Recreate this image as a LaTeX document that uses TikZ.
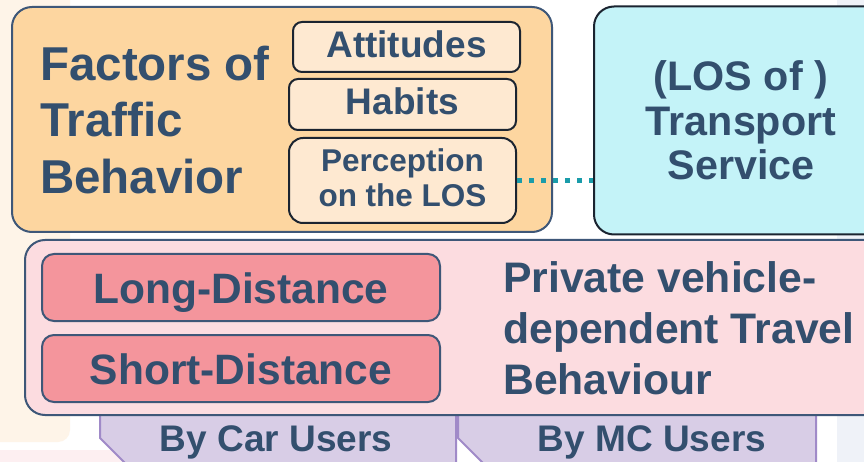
\documentclass[tikz,border=0pt]{standalone}
\usepackage{fontspec}
\setmainfont{Liberation Sans}
\usetikzlibrary{positioning, shapes, calc}

\definecolor{ink}{HTML}{334F6E}
\definecolor{boxline}{HTML}{3E5778}
\definecolor{darkline}{HTML}{1B2430}
\definecolor{orangefill}{HTML}{FDD6A0}
\definecolor{orangelight}{HTML}{FEE9D1}
\definecolor{cyanfill}{HTML}{C4F3F8}
\definecolor{pinkfill}{HTML}{FCDCE0}
\definecolor{redfill}{HTML}{F4959C}
\definecolor{purplefill}{HTML}{D8CDE6}
\definecolor{purpleline}{HTML}{A08AC8}
\definecolor{tealdot}{HTML}{1A9CAA}
\definecolor{creambg}{HTML}{FEF4E8}
\definecolor{greybg}{HTML}{EFF2F8}
\definecolor{pinkbg}{HTML}{FDEFF1}

% bold text at a given size / line spacing
\newcommand{\bfsz}[2]{\fontsize{#1}{#2}\selectfont\bfseries}

\begin{document}
\begin{tikzpicture}[x=1pt, y=-1pt,
    every node/.style={text=ink, inner sep=0pt},
    bigbox/.style={draw=boxline, line width=2pt, rounded corners=20pt},
    factorbox/.style={draw=darkline, line width=2pt, fill=orangelight, rounded corners=9pt, minimum width=227pt, text depth=6pt},
    distbox/.style={draw=boxline, line width=2pt, fill=redfill, rounded corners=12pt, minimum width=398pt, minimum height=67pt, font=\bfsz{42.5}{50}, text height=31pt, text depth=0pt},
    userlabel/.style={font=\bfsz{37}{40}, anchor=base}]

    % page and backdrop
    \useasboundingbox (0,0) rectangle (864,462);
    \fill[white] (0,0) rectangle (864,462);
    \fill[creambg, rounded corners=12pt] (-20,-20) rectangle (70,442);
    \fill[greybg] (837,0) rectangle (864,462);
    \fill[pinkbg] (0,450) rectangle (130,462);

    % user tabs under the travel box
    \draw[purpleline, line width=2pt, fill=purplefill] (100,405) -- (100,438) -- (132,470) -- (456,470) -- (456,405) -- cycle;
    \draw[purpleline, line width=2pt, fill=purplefill] (458,405) -- (458,438) -- (490,470) -- (816,470) -- (816,405) -- cycle;
    \node[userlabel] (car) at (276,451) {By Car Users};
    \node[userlabel] (mc) at (652,451) {By MC Users};

    % factors of traffic behavior
    \node[bigbox, fill=orangefill, minimum width=540pt, minimum height=225pt] (factors) at (282,119.5) {};
    \node[font=\bfsz{47.5}{56.5}, align=left, anchor=west] (factorstitle) at (40,120) {Factors of\\Traffic\\Behavior};
    \node[factorbox, minimum height=50pt, font=\bfsz{37}{37}] (attitudes) at (406.5,47) {Attitudes};
    \node[factorbox, minimum height=51pt, font=\bfsz{37}{37}] (habits) at (402.5,104.5) {Habits};
    \node[factorbox, minimum height=85pt, rounded corners=14pt, font=\bfsz{31.5}{35}, align=center] (perception) at (402.5,180.5) {Perception\\on the LOS};

    % transport service
    \node[bigbox, draw=darkline, fill=cyanfill, minimum width=294pt, minimum height=228pt, font=\bfsz{41.3}{44.5}, align=center] (los) at (741,120.5) {(LOS of )\\Transport\\Service};
    \draw[tealdot, line width=5.5pt, dash pattern=on 5pt off 7pt] (perception.east) -- (perception.east -| los.west);

    % travel behaviour
    \node[bigbox, fill=pinkfill, minimum width=863pt, minimum height=175pt] (travel) at (456.5,327.5) {};
    \node[distbox] (long) at (241,287.5) {Long-Distance};
    \node[distbox] (short) at (241,368.5) {Short-Distance};
    \node[font=\bfsz{42.7}{51}, align=left, anchor=west] (travelmode) at (503,328.5) {Private vehicle-\\dependent Travel\\Behaviour};
\end{tikzpicture}
\end{document}
